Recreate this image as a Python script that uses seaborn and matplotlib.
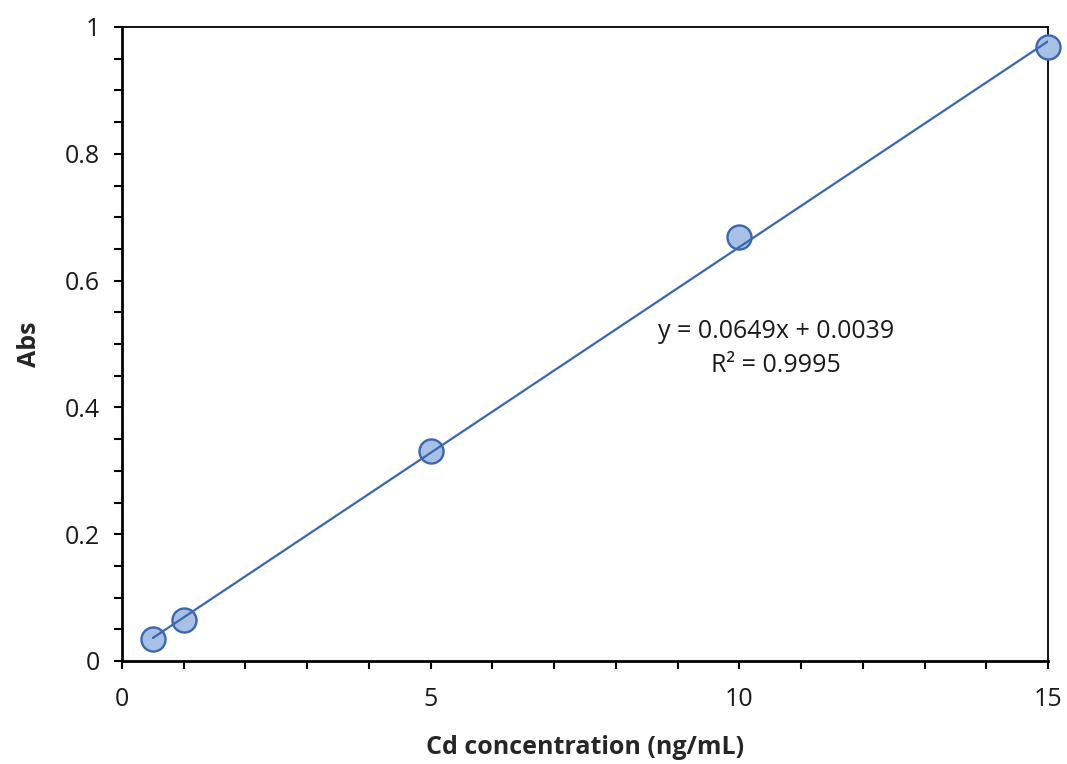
import numpy as np
import pandas as pd
import seaborn as sns
import matplotlib.pyplot as plt
from matplotlib.ticker import MultipleLocator

# Calibration data
concentration = [0.5, 1, 5, 10, 15]
absorbance = [0.035, 0.065, 0.332, 0.668, 0.968]

# Linear fit parameters
slope = 0.0649
intercept = 0.0039
r_squared = 0.9995

df = pd.DataFrame({"conc": concentration, "abs": absorbance})

sns.set_theme(style="white")
plt.rcParams['font.family'] = ['Open Sans', 'DejaVu Sans']

fig = plt.figure(figsize=(10.67, 7.64), dpi=100)
ax = fig.add_axes([122 / 1067, 1 - 661 / 764, (1048 - 122) / 1067, (661 - 27) / 764])

line_color = "#3A67AE"
fs = 18

sns.scatterplot(data=df, x="conc", y="abs", ax=ax, s=300, color="#A9C0E6",
                edgecolor=line_color, linewidth=1.7, zorder=3, legend=False,
                clip_on=False)

fit_x = np.array([min(concentration), max(concentration)])
fit_y = slope * fit_x + intercept
sns.lineplot(x=fit_x, y=fit_y, ax=ax, color=line_color, linewidth=1.6, zorder=4)

ax.text(10.6, 0.493, f"y = {slope:.4f}x + {intercept:.4f}\nR\u00b2 = {r_squared:.4f}",
        ha="center", va="center", fontsize=fs, linespacing=1.45, color="#1a1a1a")

ax.set_xlim(0, 15)
ax.set_ylim(0, 1)
ax.xaxis.set_major_locator(MultipleLocator(5))
ax.xaxis.set_minor_locator(MultipleLocator(1))
ax.yaxis.set_major_locator(MultipleLocator(0.2))
ax.yaxis.set_minor_locator(MultipleLocator(0.05))
ax.set_yticks([0, 0.2, 0.4, 0.6, 0.8, 1.0])
ax.set_yticklabels(["0", "0.2", "0.4", "0.6", "0.8", "1"])
ax.set_xticks([0, 5, 10, 15])
ax.set_xticklabels(["0", "5", "10", "15"])

ax.tick_params(axis="both", which="both", direction="out", length=6, width=1.5,
               color="black", labelsize=fs, labelcolor="#1a1a1a")
ax.tick_params(axis="x", which="major", pad=13)
ax.tick_params(axis="y", which="major", pad=10)
ax.tick_params(bottom=True, left=True, which="both")

for side in ["left", "bottom"]:
    ax.spines[side].set_linewidth(2.0)
for side in ["top", "right"]:
    ax.spines[side].set_linewidth(1.3)
for side in ax.spines:
    ax.spines[side].set_color("black")
    ax.spines[side].set_visible(True)

ax.set_xlabel("Cd concentration (ng/mL)", fontsize=fs, fontweight="bold", labelpad=16)
ax.set_ylabel("Abs", fontsize=fs, fontweight="bold", labelpad=16)

fig.savefig("out.png", dpi=100)
